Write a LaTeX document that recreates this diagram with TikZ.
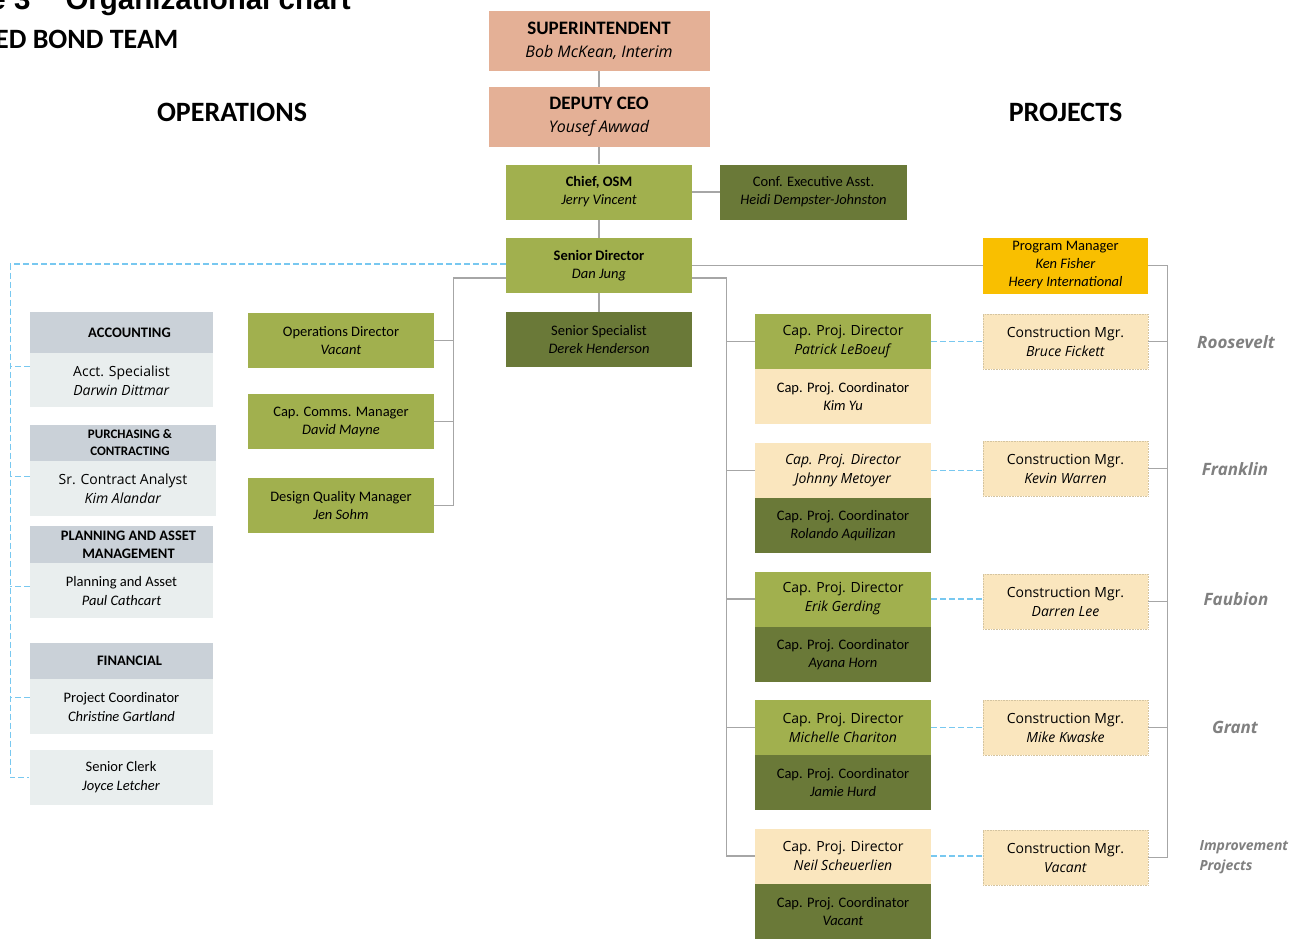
\documentclass[tikz,border=0pt]{standalone}
\usepackage{fontspec}
\setmainfont{Carlito}
\newfontfamily\opensans{Open Sans}
\newfontfamily\arialbold{Liberation Sans}
\usepackage{tikz}
\usetikzlibrary{positioning}
\definecolor{salmon}{RGB}{228,176,150}
\definecolor{leafgreen}{RGB}{161,176,78}
\definecolor{olivegreen}{RGB}{106,121,56}
\definecolor{sand}{RGB}{250,230,190}
\definecolor{amber}{RGB}{249,191,0}
\definecolor{slate}{RGB}{202,209,216}
\definecolor{mist}{RGB}{233,238,238}
\definecolor{linegray}{RGB}{166,166,166}
\definecolor{skyline}{RGB}{120,200,240}
\definecolor{sitegray}{RGB}{128,128,128}
\definecolor{sandedge}{RGB}{212,196,160}
\newcommand{\setfs}[2]{\fontsize{#1}{#2}\selectfont}

\begin{document}
\begin{tikzpicture}[x=1pt,y=-1pt]
\tikzset{postbox/.style={inner sep=0pt,align=center,minimum width=186pt,minimum height=55pt,font=\setfs{14.5}{18}}}
\tikzset{topbox/.style={postbox,fill=salmon,minimum width=221pt,minimum height=60pt,font=\setfs{19}{23}}}
\tikzset{leadbox/.style={postbox,fill=leafgreen}}
\tikzset{aidebox/.style={postbox,fill=olivegreen}}
\tikzset{projlead/.style={postbox,fill=leafgreen,minimum width=176pt,font=\setfs{14}{19}\opensans}}
\tikzset{projaide/.style={postbox,fill=olivegreen,minimum width=176pt}}
\tikzset{cmbox/.style={postbox,fill=sand,draw=sandedge,densely dotted,line width=0.6pt,minimum width=165pt,font=\setfs{14}{19}\opensans}}
\tikzset{headbox/.style={postbox,fill=slate,minimum width=183pt,minimum height=36pt,font=\setfs{14.5}{18}\bfseries}}
\tikzset{bodybox/.style={postbox,fill=mist,minimum width=183pt,font=\setfs{14.5}{19}}}
\tikzset{sitelbl/.style={text=sitegray,font=\setfs{17}{20}\opensans\bfseries\itshape}}
\tikzset{heading/.style={anchor=base,font=\setfs{28}{30}\bfseries}}
\tikzset{reports/.style={draw=linegray,line width=1.2pt}}
\tikzset{liaison/.style={draw=skyline,line width=1.2pt,dash pattern=on 6pt off 3pt}}
\useasboundingbox (0,0) rectangle (1305,938);
\clip (0,0) rectangle (1305,938);

% page title, cut by the page edge
\node[anchor=base east,font=\setfs{29.5}{32}\arialbold\bfseries] (fignum) at (34,9) {e 3};
\node[anchor=base west,font=\setfs{29.5}{32}\arialbold\bfseries] (figtitle) at (62,9) {Organizational chart};
\node[anchor=base east,font=\setfs{28}{30}\bfseries] (team) at (182,48) {ED BOND TEAM};
\node[heading] (ops) at (232,121) {OPERATIONS};
\node[heading] (projects) at (1065.5,121) {PROJECTS};

% top of the chart
\node[topbox] (super) at (599,41) {\textbf{SUPERINTENDENT}\\{\setfs{16}{23}\opensans\itshape Bob McKean, Interim}};
\node[topbox] (deputy) at (599,117) {\textbf{DEPUTY CEO}\\{\setfs{16}{23}\opensans\itshape Yousef Awwad}};
\node[leadbox] (chief) at (599,192) {\textbf{Chief, OSM}\\\textit{Jerry Vincent}};
\node[aidebox,minimum width=187pt] (confasst) at (813.5,192) {Conf. Executive Asst.\\\textit{Heidi Dempster-Johnston}};
\node[leadbox] (srdir) at (599,265.5) {\textbf{Senior Director}\\\textit{Dan Jung}};
\node[aidebox] (srspec) at (599,339.5) {Senior Specialist\\\textit{Derek Henderson}};

% operations
\node[leadbox] (opsdir) at (341,340.5) {Operations Director\\\textit{Vacant}};
\node[leadbox] (comms) at (341,421.5) {Cap. Comms. Manager\\\textit{David Mayne}};
\node[leadbox] (dqm) at (341,505.5) {Design Quality Manager\\\textit{Jen Sohm}};

\node[headbox,minimum height=41pt] (accthead) at (121.5,332.5) {\hspace*{16pt}ACCOUNTING};
\node[bodybox,minimum height=54pt,below=0pt of accthead,font=\setfs{14}{19}\opensans] (acct) {Acct. Specialist\\\textit{Darwin Dittmar}};
\node[headbox,minimum width=186pt,font=\setfs{13}{17}\bfseries] (purchhead) at (123,443) {\hspace*{14pt}PURCHASING \&\\\hspace*{14pt}CONTRACTING};
\node[bodybox,minimum width=186pt,below=0pt of purchhead,font=\setfs{14}{19}\opensans] (purch) {Sr. Contract Analyst\\\textit{Kim Alandar}};
\node[headbox,minimum height=37pt] (planhead) at (121.5,544.5) {\hspace*{14pt}PLANNING AND ASSET\\\hspace*{14pt}MANAGEMENT};
\node[bodybox,below=0pt of planhead] (plan) {Planning and Asset\\\textit{Paul Cathcart}};
\node[headbox] (finhead) at (121.5,661) {\hspace*{16pt}FINANCIAL};
\node[bodybox,below=0pt of finhead] (fin) {Project Coordinator\\\textit{Christine Gartland}};
\node[bodybox] (clerk) at (121,777.5) {Senior Clerk\\\textit{Joyce Letcher}};

% projects
\node[postbox,fill=amber,minimum width=165pt,minimum height=56pt] (pm) at (1065.5,265.5) {Program Manager\\\textit{Ken Fisher}\\\textit{Heery International}};

\node[projlead] (cpd1) at (843,341.5) {Cap. Proj. Director\\\textit{Patrick LeBoeuf}};
\node[projaide,fill=sand,below=0pt of cpd1] (cpc1) {Cap. Proj. Coordinator\\\textit{Kim Yu}};
\node[projlead,fill=sand] (cpd2) at (843,470.5) {\textit{Cap. Proj. Director}\\\textit{Johnny Metoyer}};
\node[projaide,below=0pt of cpd2] (cpc2) {Cap. Proj. Coordinator\\\textit{Rolando Aquilizan}};
\node[projlead] (cpd3) at (843,599) {Cap. Proj. Director\\\textit{Erik Gerding}};
\node[projaide,below=0pt of cpd3] (cpc3) {Cap. Proj. Coordinator\\\textit{Ayana Horn}};
\node[projlead] (cpd4) at (843,727.5) {Cap. Proj. Director\\\textit{Michelle Chariton}};
\node[projaide,below=0pt of cpd4] (cpc4) {Cap. Proj. Coordinator\\\textit{Jamie Hurd}};
\node[projlead,fill=sand] (cpd5) at (843,856) {Cap. Proj. Director\\\textit{Neil Scheuerlien}};
\node[projaide,below=0pt of cpd5] (cpc5) {Cap. Proj. Coordinator\\\textit{Vacant}};

\node[cmbox] (cm1) at (1065.5,341.5) {Construction Mgr.\\\textit{Bruce Fickett}};
\node[cmbox] (cm2) at (1065.5,468.5) {Construction Mgr.\\\textit{Kevin Warren}};
\node[cmbox] (cm3) at (1065.5,601.5) {Construction Mgr.\\\textit{Darren Lee}};
\node[cmbox] (cm4) at (1065.5,727.5) {Construction Mgr.\\\textit{Mike Kwaske}};
\node[cmbox] (cm5) at (1065.5,857.5) {Construction Mgr.\\\textit{Vacant}};

\node[sitelbl] (roosevelt) at (1236,342) {Roosevelt};
\node[sitelbl] (franklin) at (1235,469) {Franklin};
\node[sitelbl] (faubion) at (1236,599) {Faubion};
\node[sitelbl] (grant) at (1235,727) {Grant};
\node[sitelbl,anchor=west,align=left,font=\setfs{14}{20}\opensans\bfseries\itshape] (improve) at (1196,857) {Improvement\\Projects};

% connectors
\draw[reports] (super) -- (deputy);
\draw[reports] (deputy) -- (chief);
\draw[reports] (chief) -- (srdir);
\draw[reports] (srdir) -- (srspec);
\draw[reports] (chief.east) -- (confasst.west);
\draw[reports] (srdir.east) -- (pm.west);
\draw[reports] (pm.east) -| ([xshift=19pt]cm5.east) -- (cm5.east);
\foreach \i in {1,...,4} \draw[reports] (cm\i.east) -- ++(19,0);
\draw[reports] ([yshift=-12.5pt]srdir.east) -| ([xshift=-28pt]cpd5.west) -- (cpd5.west);
\foreach \i in {1,...,4} \draw[reports] (cpd\i.west) -- ++(-28,0);
\foreach \i in {1,...,5} \draw[liaison] (cpd\i.east) -- (cpd\i.east -| cm\i.west);
\draw[reports] ([yshift=-12.5pt]srdir.west) -| ([xshift=19pt]dqm.east) -- (dqm.east);
\draw[reports] (opsdir.east) -- ++(19,0);
\draw[reports] (comms.east) -- ++(19,0);
\draw[liaison] ([yshift=1.5pt]srdir.west) -| ([xshift=-19pt]clerk.west) -- (clerk.west);
\draw[liaison] ([yshift=14pt]acct.west) -- ++(-20,0);
\draw[liaison] ([yshift=12.5pt]purch.west) -- ++(-20,0);
\draw[liaison] ([yshift=4.5pt]plan.west) -- ++(-20,0);
\draw[liaison] ([yshift=9.5pt]fin.west) -- ++(-20,0);
\end{tikzpicture}
\end{document}
